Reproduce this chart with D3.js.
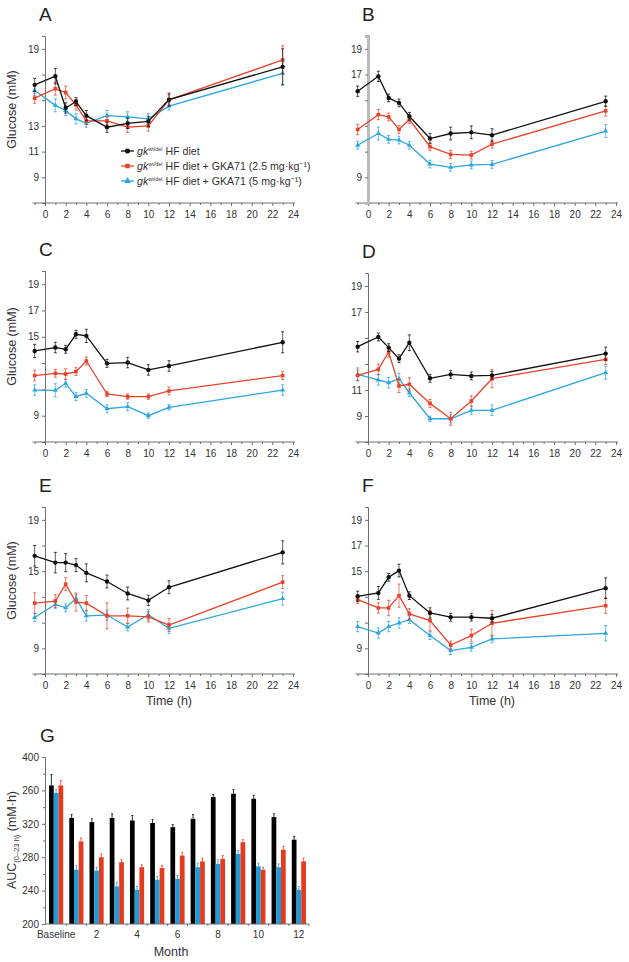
<!DOCTYPE html>
<html><head><meta charset="utf-8">
<script src="https://cdn.jsdelivr.net/npm/d3@7"></script>
<style>
body{margin:0;background:#fff}
text{font-family:"Liberation Sans",Arial,sans-serif}
</style>
</head><body>
<svg id="c" width="629" height="962"></svg>
<script>
// ---------- DATA ----------
const times = [-1, 1, 2, 3, 4, 6, 8, 10, 12, 23];
const xTickLabels = [0, 2, 4, 6, 8, 10, 12, 14, 16, 18, 20, 22, 24];
const seriesLabels = ["HF diet", "HF diet + GKA71 (2.5 mg·kg⁻¹)", "HF diet + GKA71 (5 mg·kg⁻¹)"];
const seriesColors = ["#111111", "#e8432b", "#2ba6de"];

const aBlack = [16.2, 16.87, 14.4, 14.9, 13.8, 12.9, 13.2, 13.35, 15.05, 17.6];
const aRed   = [15.16, 15.9, 15.6, 14.64, 13.4, 13.4, 12.9, 13.0, 15.03, 18.14];
const aBlue  = [15.76, 14.6, 14.2, 13.55, 13.2, 13.8, 13.7, 13.55, 14.54, 17.1];
const aBlackErr = [0.5, 0.6, 0.4, 0.3, 0.4, 0.4, 0.4, 0.4, 0.5, 1.4];
const aRedErr   = [0.4, 0.5, 0.5, 0.4, 0.3, 0.3, 0.4, 0.4, 0.4, 1.1];
const aBlueErr  = [0.4, 0.5, 0.4, 0.4, 0.3, 0.4, 0.4, 0.4, 0.3, 0.9];

const bBlack = [15.7, 16.86, 15.18, 14.79, 13.75, 12.02, 12.41, 12.5, 12.28, 14.92];
const bRed   = [12.72, 13.88, 13.7, 12.72, 13.5, 11.38, 10.78, 10.73, 11.58, 14.17];
const bBlue  = [11.5, 12.41, 11.95, 11.9, 11.5, 10.03, 9.78, 9.96, 10.0, 12.6];
const bBlackErr = [0.4, 0.4, 0.3, 0.3, 0.3, 0.4, 0.5, 0.5, 0.5, 0.4];
const bRedErr   = [0.4, 0.4, 0.3, 0.3, 0.3, 0.3, 0.3, 0.3, 0.3, 0.4];
const bBlueErr  = [0.3, 0.5, 0.3, 0.3, 0.3, 0.3, 0.3, 0.3, 0.3, 0.5];

const cBlack = [13.92, 14.18, 14.05, 15.19, 15.07, 12.98, 13.04, 12.48, 12.78, 14.58];
const cRed   = [12.05, 12.22, 12.17, 12.35, 13.16, 10.65, 10.45, 10.45, 10.88, 12.05];
const cBlue  = [10.95, 10.93, 11.46, 10.45, 10.7, 9.53, 9.69, 9.0, 9.63, 10.95];
const cBlackErr = [0.5, 0.4, 0.3, 0.3, 0.5, 0.3, 0.4, 0.4, 0.4, 0.8];
const cRedErr   = [0.4, 0.3, 0.4, 0.3, 0.3, 0.2, 0.2, 0.2, 0.3, 0.3];
const cBlueErr  = [0.4, 0.5, 0.3, 0.3, 0.3, 0.3, 0.3, 0.2, 0.2, 0.4];

const dBlack = [14.33, 15.08, 14.26, 13.41, 14.64, 11.9, 12.2, 12.08, 12.13, 13.8];
const dRed   = [12.13, 12.59, 13.92, 11.31, 11.44, 9.97, 8.79, 10.15, 11.87, 13.36];
const dBlue  = [12.2, 11.77, 11.56, 11.87, 10.79, 8.79, 8.79, 9.44, 9.44, 12.33];
const dBlackErr = [0.4, 0.3, 0.3, 0.3, 0.6, 0.3, 0.3, 0.3, 0.3, 0.5];
const dRedErr   = [0.4, 0.4, 0.4, 0.5, 0.5, 0.3, 0.5, 0.4, 0.7, 0.4];
const dBlueErr  = [0.5, 0.4, 0.4, 0.4, 0.3, 0.2, 0.3, 0.3, 0.4, 0.5];

const eBlack = [16.2, 15.67, 15.67, 15.48, 14.87, 14.2, 13.27, 12.73, 13.75, 16.47];
const eRed   = [12.52, 12.68, 13.99, 12.6, 12.52, 11.53, 11.53, 11.45, 10.81, 14.15];
const eBlue  = [11.4, 12.41, 12.15, 12.87, 11.53, 11.59, 10.65, 11.61, 10.55, 12.87];
const eBlackErr = [0.8, 0.8, 0.7, 0.5, 0.7, 0.5, 0.5, 0.4, 0.5, 0.9];
const eRedErr   = [0.8, 0.5, 0.5, 0.7, 0.6, 1.0, 0.6, 0.4, 0.5, 0.5];
const eBlueErr  = [0.3, 0.3, 0.3, 0.3, 0.4, 0.4, 0.3, 0.4, 0.4, 0.5];

const fBlack = [13.05, 13.31, 14.53, 15.05, 13.1, 11.75, 11.42, 11.42, 11.34, 13.68];
const fRed   = [12.79, 12.14, 12.14, 13.1, 11.68, 11.16, 9.26, 9.99, 10.95, 12.32];
const fBlue  = [10.69, 10.19, 10.69, 10.97, 11.23, 9.99, 8.82, 9.08, 9.73, 10.17];
const fBlackErr = [0.4, 0.5, 0.3, 0.5, 0.3, 0.4, 0.3, 0.3, 0.3, 0.8];
const fRedErr   = [0.3, 0.4, 0.6, 0.9, 0.4, 0.8, 0.3, 0.5, 1.0, 0.6];
const fBlueErr  = [0.4, 0.4, 0.4, 0.4, 0.3, 0.3, 0.3, 0.3, 0.3, 0.6];

// y tick labels visible in each panel
const aYLabels = [9, 11, 13, 19];
const bYLabels = [9, 17, 19];
const cYLabels = [9, 15, 17, 19];
const dYLabels = [9, 11, 17, 19];
const eYLabels = [9, 15, 19];
const fYLabels = [9, 15, 17, 19];

// Panel G: AUC bars
const months = ["Baseline", "1", "2", "3", "4", "5", "6", "7", "8", "9", "10", "11", "12"];
const monthLabels = ["Baseline", "", "2", "", "4", "", "6", "", "8", "", "10", "", "12"];
const gBlack = [366, 327, 322, 327, 324, 321, 316, 326, 352, 356, 350, 328, 301];
const gBlue  = [357, 265, 264, 245, 241, 253, 254, 268, 272, 284, 269, 268, 241];
const gRed   = [366, 299, 280, 274, 268, 267, 282, 275, 278, 298, 265, 289, 275];
const gBlackErr = [13, 4, 4, 5, 6, 4, 3, 5, 3, 5, 4, 4, 4];
const gBlueErr  = [4, 5, 4, 5, 4, 4, 4, 5, 5, 4, 4, 4, 4];
const gRedErr   = [6, 4, 4, 3, 3, 3, 4, 4, 4, 3, 3, 4, 4];
const gYTicks = [200, 240, 280, 320, 360, 400];
const gYTickText = ["200", "240", "280", "320", "260", "400"];

// ---------- DRAW ----------
const svg = d3.select("#c");
const axisColor = "#6f6f6f";
const textColor = "#333";

const panels = [
  {id: "A", x0: 45, bottom: 203, h: 167, s: [aBlack, aRed, aBlue], e: [aBlackErr, aRedErr, aBlueErr], yl: aYLabels, ylab: true, xlab: false},
  {id: "B", x0: 368, bottom: 203, h: 167, s: [bBlack, bRed, bBlue], e: [bBlackErr, bRedErr, bBlueErr], yl: bYLabels, ylab: false, xlab: false, grayAxis: true},
  {id: "C", x0: 45, bottom: 442, h: 171, s: [cBlack, cRed, cBlue], e: [cBlackErr, cRedErr, cBlueErr], yl: cYLabels, ylab: true, xlab: false},
  {id: "D", x0: 368, bottom: 442, h: 169, s: [dBlack, dRed, dBlue], e: [dBlackErr, dRedErr, dBlueErr], yl: dYLabels, ylab: false, xlab: false},
  {id: "E", x0: 45, bottom: 674, h: 167, s: [eBlack, eRed, eBlue], e: [eBlackErr, eRedErr, eBlueErr], yl: eYLabels, ylab: true, xlab: true},
  {id: "F", x0: 368, bottom: 674, h: 167, s: [fBlack, fRed, fBlue], e: [fBlackErr, fRedErr, fBlueErr], yl: fYLabels, ylab: false, xlab: true},
];
const symbols = [d3.symbolCircle, d3.symbolSquare, d3.symbolTriangle];
const symSize = [15, 13, 11];

panels.forEach(p => {
  const x = d3.scaleLinear().domain([0, 24]).range([p.x0, p.x0 + 248]);
  const y = d3.scaleLinear().domain([7, 20]).range([p.bottom, p.bottom - p.h]);
  const g = svg.append("g");

  // x axis
  const xa = g.append("g").attr("transform", `translate(0,${p.bottom})`)
    .call(d3.axisBottom(x).tickValues(xTickLabels).tickSize(3).tickFormat(d3.format("d")));
  xa.select(".domain").remove();
  xa.append("line").attr("x1", x(-1.2)).attr("x2", x(24.2)).attr("stroke", axisColor).attr("stroke-width", 1);
  g.append("g").attr("transform", `translate(0,${p.bottom})`)
    .call(d3.axisBottom(x).tickValues(d3.range(-1, 25, 2)).tickSize(2).tickFormat(""))
    .call(s => s.select(".domain").remove());
  xa.selectAll("text").attr("fill", textColor).attr("font-size", 10).attr("dy", "0.85em");
  g.selectAll(".tick line").attr("stroke", axisColor);

  // y axis
  const ya = g.append("g").attr("transform", `translate(${p.x0},0)`)
    .call(d3.axisLeft(y).tickValues([9, 11, 13, 15, 17, 19]).tickSize(3)
      .tickFormat(d => p.yl.includes(d) ? d : ""));
  ya.select(".domain").attr("stroke", p.grayAxis ? "#bbb" : axisColor).attr("stroke-width", p.grayAxis ? 3 : 1);
  ya.selectAll(".tick line").attr("stroke", axisColor);
  ya.selectAll("text").attr("fill", textColor).attr("font-size", 10);

  // panel letter
  svg.append("text").attr("x", p.x0 - 6).attr("y", p.bottom - p.h - 15)
    .attr("font-size", 19).attr("fill", "#222").text(p.id);

  if (p.ylab) {
    svg.append("text").attr("transform", `translate(16,${p.bottom - p.h / 2 - 10}) rotate(-90)`)
      .attr("text-anchor", "middle").attr("font-size", 12.5).attr("fill", textColor).text("Glucose (mM)");
  }
  if (p.xlab) {
    svg.append("text").attr("x", x(12)).attr("y", p.bottom + 31).attr("text-anchor", "middle")
      .attr("font-size", 12.5).attr("fill", textColor).text("Time (h)");
  }

  // series
  [2, 1, 0].forEach(si => {
    const vals = p.s[si], errs = p.e[si], col = seriesColors[si];
    const sg = g.append("g");
    const line = d3.line().x((d, i) => x(times[i])).y(d => y(d));
    sg.append("path").datum(vals).attr("d", line).attr("fill", "none")
      .attr("stroke", col).attr("stroke-width", 1.3);
    vals.forEach((v, i) => {
      const cx = x(times[i]);
      const y1 = y(v - errs[i]), y2 = y(v + errs[i]);
      sg.append("line").attr("x1", cx).attr("x2", cx).attr("y1", y1).attr("y2", y2)
        .attr("stroke", col).attr("stroke-width", 0.8).attr("stroke-opacity", 0.85);
      [y1, y2].forEach(yy => sg.append("line").attr("x1", cx - 1.5).attr("x2", cx + 1.5)
        .attr("y1", yy).attr("y2", yy).attr("stroke", col).attr("stroke-width", 0.8));
      sg.append("path").attr("d", d3.symbol().type(symbols[si]).size(symSize[si])())
        .attr("transform", `translate(${cx},${y(v)})`).attr("fill", col);
    });
  });
});

// Legend in panel A
const leg = svg.append("g");
seriesLabels.forEach((lab, i) => {
  const ly = 151 + i * 15;
  leg.append("line").attr("x1", 121).attr("x2", 134).attr("y1", ly).attr("y2", ly)
    .attr("stroke", seriesColors[i]).attr("stroke-width", 1.3);
  leg.append("path").attr("d", d3.symbol().type(symbols[i]).size(20)())
    .attr("transform", `translate(127.5,${ly})`).attr("fill", seriesColors[i]);
  const t = leg.append("text").attr("x", 137).attr("y", ly + 3.7).attr("font-size", 10.6).attr("fill", textColor);
  t.append("tspan").attr("font-style", "italic").text("gk");
  t.append("tspan").attr("font-size", 5.5).attr("dy", -4).text("wt/del");
  t.append("tspan").attr("dy", 4).text(" " + lab);
});

// ---------- Panel G ----------
const gx = d3.scaleBand().domain(months).range([45, 310]).paddingInner(0.3).paddingOuter(0.2);
const gy = d3.scaleLinear().domain([200, 400]).range([924, 757]);
const sub = d3.scaleBand().domain(["black", "blue", "red"]).range([0, gx.bandwidth()]);
const gg = svg.append("g");
const barSets = [
  {k: "black", v: gBlack, e: gBlackErr, c: "#000"},
  {k: "blue", v: gBlue, e: gBlueErr, c: "#1f9bd7"},
  {k: "red", v: gRed, e: gRedErr, c: "#e63a1e"},
];
barSets.forEach(bs => {
  months.forEach((m, i) => {
    const bx = gx(m) + sub(bs.k);
    gg.append("rect").attr("x", bx).attr("y", gy(bs.v[i])).attr("width", sub.bandwidth())
      .attr("height", gy(200) - gy(bs.v[i])).attr("fill", bs.c);
    const cx = bx + sub.bandwidth() / 2;
    gg.append("line").attr("x1", cx).attr("x2", cx).attr("y1", gy(bs.v[i])).attr("y2", gy(bs.v[i] + bs.e[i]))
      .attr("stroke", bs.c).attr("stroke-width", 0.8);
    gg.append("line").attr("x1", cx - 1).attr("x2", cx + 1).attr("y1", gy(bs.v[i] + bs.e[i])).attr("y2", gy(bs.v[i] + bs.e[i]))
      .attr("stroke", bs.c).attr("stroke-width", 0.8);
  });
});
const gya = gg.append("g").attr("transform", "translate(45,0)")
  .call(d3.axisLeft(gy).tickValues(gYTicks).tickSize(3).tickFormat((d, i) => gYTickText[i]));
gya.select(".domain").attr("stroke", axisColor);
gya.selectAll("text").attr("fill", textColor).attr("font-size", 10);
gya.selectAll(".tick line").attr("stroke", axisColor);
gg.append("g").attr("transform", "translate(45,0)")
  .call(d3.axisLeft(gy).tickValues([220, 260, 300, 340, 380]).tickSize(2).tickFormat(""))
  .call(s => { s.select(".domain").remove(); s.selectAll("line").attr("stroke", axisColor); });
const gxa = gg.append("g").attr("transform", "translate(0,924)")
  .call(d3.axisBottom(gx).tickSize(0).tickFormat((d, i) => monthLabels[i]));
gxa.select(".domain").attr("d", "M45,0H309").attr("stroke", axisColor);
gxa.selectAll("text").attr("fill", textColor).attr("font-size", 10).attr("dy", "1.1em");
gxa.selectAll(".tick").append("line").attr("x1", d => gx.step() / 2).attr("x2", d => gx.step() / 2)
  .attr("y1", 0).attr("y2", 2).attr("stroke", axisColor);

svg.append("text").attr("x", 40).attr("y", 742).attr("font-size", 19).attr("fill", "#222").text("G");
svg.append("text").attr("x", 171).attr("y", 956).attr("text-anchor", "middle").attr("font-size", 12.5).attr("fill", textColor).text("Month");
const gl = svg.append("text").attr("transform", "translate(16,840) rotate(-90)").attr("text-anchor", "middle")
  .attr("font-size", 12.5).attr("fill", textColor);
gl.append("tspan").text("AUC");
gl.append("tspan").attr("font-size", 7.5).attr("dy", 3).text("(0–23 h)");
gl.append("tspan").attr("dy", -3).text(" (mM·h)");
</script>
</body></html>
